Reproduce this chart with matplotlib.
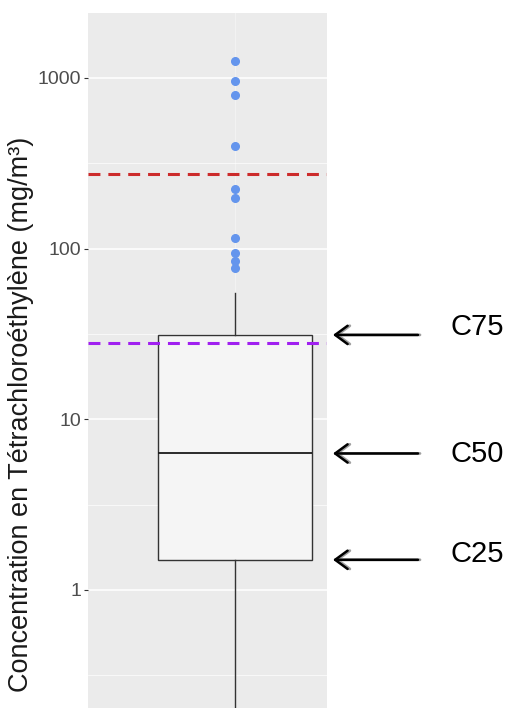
import matplotlib
matplotlib.use('Agg')
from matplotlib import pyplot as plt
from matplotlib.ticker import FixedLocator, NullFormatter

plt.rcParams['font.family'] = ['Liberation Sans', 'DejaVu Sans']

# box statistics (mg/m3)
q25 = 1.5
median = 6.3
q75 = 31.2
whisker_hi = 55
whisker_lo = 0.1
outliers = [1260, 960, 790, 400, 224, 197, 115, 94, 85, 77]

# reference levels
red_level = 273
purple_level = 27.8

ytick_vals = [1, 10, 100, 1000]
ytick_labels = ['1', '10', '100', '1000']
yminor_vals = [10 ** -0.5, 10 ** 0.5, 10 ** 1.5, 10 ** 2.5]

arrow_labels = ['C75', 'C50', 'C25']
arrow_levels = [q75, median, q25]

W, H = 507, 708
fig = plt.figure(figsize=(W / 100, H / 100), dpi=100)
ax = fig.add_axes([88 / W, 0, (327 - 88) / W, 1 - 13 / H])
ax.set_facecolor('#ebebeb')

ax.set_yscale('log')
ax.set_ylim(0.203, 2404)
ax.set_xlim(0.26, 1.463)

ax.yaxis.set_major_locator(FixedLocator(ytick_vals))
ax.yaxis.set_minor_locator(FixedLocator(yminor_vals))
ax.yaxis.set_minor_formatter(NullFormatter())
ax.set_yticklabels(ytick_labels)
ax.set_xticks([1])
ax.grid(True, which='major', axis='y', color='white', lw=1.1)
ax.grid(True, which='major', axis='x', color='#f3f3f3', lw=0.7)
ax.grid(True, which='minor', axis='y', color='white', lw=0.5)
ax.set_axisbelow(True)
ax.tick_params(axis='y', which='major', length=3, width=0.8, color='#333333',
               labelcolor='#4d4d4d', labelsize=14, pad=2)
ax.tick_params(axis='y', which='minor', length=0)
ax.tick_params(axis='x', length=0, labelbottom=False)
for s in ax.spines.values():
    s.set_visible(False)

stats = [{'med': median, 'q1': q25, 'q3': q75, 'whislo': whisker_lo,
          'whishi': whisker_hi, 'fliers': outliers}]
ax.bxp(stats, positions=[1], widths=0.78, showcaps=False, patch_artist=True,
       boxprops=dict(facecolor='#f5f5f5', edgecolor='#333333', lw=1.0),
       medianprops=dict(color='#1a1a1a', lw=1.3),
       whiskerprops=dict(color='#333333', lw=1.0),
       flierprops=dict(marker='o', markersize=5.5, markerfacecolor='#6495ed',
                       markeredgecolor='#6495ed'))

ax.axhline(red_level, color='#cc2b2b', lw=2.2, ls=(0, (3.9, 2.6)), zorder=5)
ax.axhline(purple_level, color='#a020f0', lw=2.2, ls=(0, (3.9, 2.6)), zorder=5)

fig.text(21 / W, 1 - 414 / H, 'Concentration en Tétrachloroéthylène (mg/m³)',
         rotation=90, ha='center', va='center', fontsize=19.5, color='#1a1a1a')

text_y = [327, 454, 554]
for lab, lev, ty in zip(arrow_labels, arrow_levels, text_y):
    # shadow then arrow
    ax.annotate('', xy=(335, lev), xycoords=('figure pixels', 'data'),
                xytext=(420, lev), textcoords=('figure pixels', 'data'),
                arrowprops=dict(arrowstyle='->, head_length=0.45, head_width=0.33',
                                color='#a0a0a0', lw=2.0, mutation_scale=20,
                                shrinkA=0, shrinkB=0),
                annotation_clip=False)
    ax.annotate('', xy=(333, lev), xycoords=('figure pixels', 'data'),
                xytext=(418, lev), textcoords=('figure pixels', 'data'),
                arrowprops=dict(arrowstyle='->, head_length=0.45, head_width=0.33',
                                color='black', lw=1.8, mutation_scale=20,
                                shrinkA=0, shrinkB=0),
                annotation_clip=False)
    fig.text(450 / W, 1 - ty / H, lab, ha='left', va='center', fontsize=21,
             color='black')

fig.savefig('out.png', dpi=100, facecolor='white')
